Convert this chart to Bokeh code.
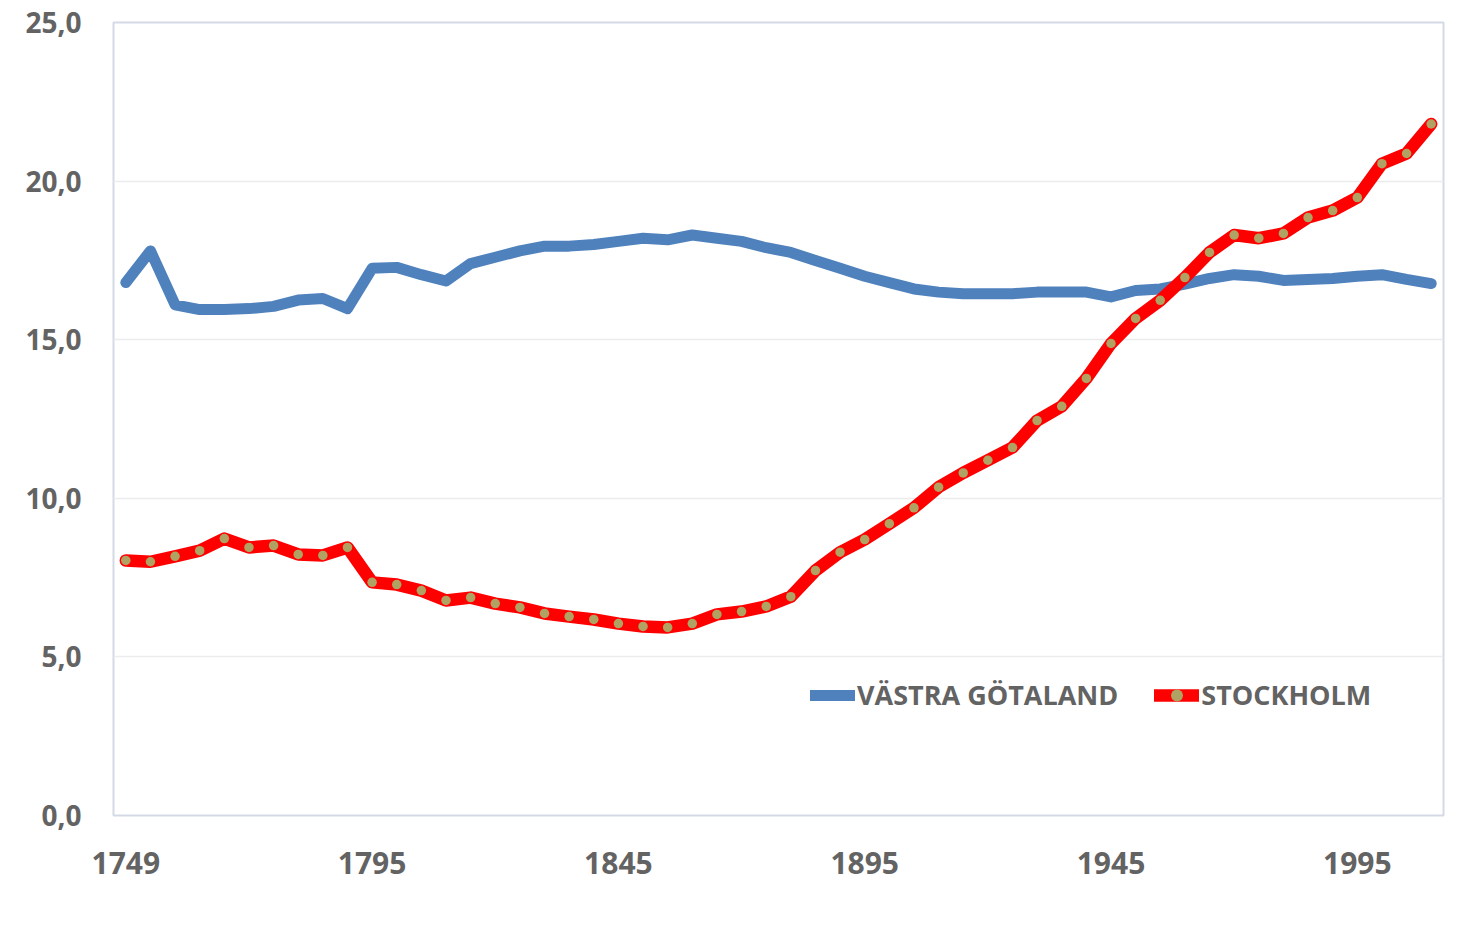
from bokeh.plotting import figure
from bokeh.models import (Range1d, FixedTicker, CustomJSTickFormatter,
                          Legend, LegendItem, ColumnDataSource)
from bokeh.embed import file_html
from bokeh.resources import INLINE

years = ["1749", "1750", "1755", "1760", "1765", "1770", "1775", "1780", "1785", "1790",
         "1795", "1800", "1805", "1810", "1815", "1820", "1825", "1830", "1835", "1840",
         "1845", "1850", "1855", "1860", "1865", "1870", "1875", "1880", "1885", "1890",
         "1895", "1900", "1905", "1910", "1915", "1920", "1925", "1930", "1935", "1940",
         "1945", "1950", "1955", "1960", "1965", "1970", "1975", "1980", "1985", "1990",
         "1995", "2000", "2005", "2010"]

vastra_gotaland = [16.8, 17.8, 16.1, 15.95, 15.95, 15.98, 16.05, 16.25, 16.3, 15.98,
                   17.25, 17.28, 17.05, 16.85, 17.4, 17.6, 17.8, 17.95, 17.95, 18.0,
                   18.1, 18.2, 18.15, 18.3, 18.2, 18.1, 17.9, 17.75, 17.5, 17.25,
                   17.0, 16.8, 16.6, 16.5, 16.45, 16.45, 16.45, 16.5, 16.5, 16.5,
                   16.35, 16.55, 16.6, 16.75, 16.93, 17.05, 17.0, 16.87, 16.9, 16.93,
                   17.0, 17.05, 16.9, 16.77]

stockholm = [8.04, 8.0, 8.17, 8.35, 8.73, 8.45, 8.51, 8.23, 8.2, 8.45,
             7.35, 7.28, 7.09, 6.78, 6.87, 6.68, 6.56, 6.37, 6.27, 6.18,
             6.05, 5.96, 5.93, 6.05, 6.34, 6.43, 6.59, 6.9, 7.72, 8.3,
             8.7, 9.2, 9.7, 10.35, 10.8, 11.2, 11.6, 12.45, 12.9, 13.78,
             14.88, 15.67, 16.24, 16.96, 17.75, 18.3, 18.2, 18.35, 18.85, 19.07,
             19.48, 20.55, 20.87, 21.8]

y_ticks = [0, 5, 10, 15, 20, 25]
series_names = ["VÄSTRA GÖTALAND", "STOCKHOLM"]
label_every = 10

# category positions (one slot per year entry)
pos = list(range(len(years)))
src = ColumnDataSource(dict(pos=pos, year=years, vg=vastra_gotaland, st=stockholm))

p = figure(width=1447, height=915,
           x_range=Range1d(-0.5, len(years) - 0.5), y_range=Range1d(0, 25),
           output_backend="svg", toolbar_location=None,
           min_border_left=113, min_border_right=4, min_border_top=22, min_border_bottom=100)

p.background_fill_color = "white"
p.border_fill_color = "white"
p.outline_line_color = "#d3dae6"
p.outline_line_width = 2

font = "Open Sans"
txt_col = "#636363"

p.xgrid.visible = False
p.ygrid.grid_line_color = "#ececec"
p.ygrid.grid_line_width = 1.5

p.yaxis.ticker = FixedTicker(ticks=y_ticks)
p.yaxis.formatter = CustomJSTickFormatter(code="return tick.toFixed(1).replace('.', ',');")
p.yaxis.axis_line_color = None
p.yaxis.major_tick_line_color = None
p.yaxis.minor_tick_line_color = None
p.yaxis.major_label_text_font = font
p.yaxis.major_label_text_font_style = "bold"
p.yaxis.major_label_text_font_size = "28px"
p.yaxis.major_label_text_color = txt_col
p.yaxis.major_label_standoff = 26

tick_pos = pos[::label_every]
p.xaxis.ticker = FixedTicker(ticks=tick_pos)
p.xaxis.major_label_overrides = {i: years[i] for i in tick_pos}
p.xaxis.axis_line_color = None
p.xaxis.major_tick_line_color = None
p.xaxis.minor_tick_line_color = None
p.xaxis.major_label_text_font = font
p.xaxis.major_label_text_font_style = "bold"
p.xaxis.major_label_text_font_size = "30px"
p.xaxis.major_label_text_color = txt_col
p.xaxis.major_label_standoff = 30

r_vg = p.line(x="pos", y="vg", source=src, line_width=11, color="#4f81bd",
              line_join="round", line_cap="round")
r_st = p.line(x="pos", y="st", source=src, line_width=12.5, color="#ff0000",
              line_join="round", line_cap="round")
r_dots = p.scatter(x="pos", y="st", source=src, size=9.5, fill_color="#b0a262",
                   line_color=None, marker="circle")

legend = Legend(items=[LegendItem(label=series_names[0], renderers=[r_vg]),
                       LegendItem(label=series_names[1], renderers=[r_st, r_dots])],
                orientation="horizontal", location=(697, 102),
                border_line_color=None, background_fill_alpha=0,
                padding=0, margin=0, spacing=36, label_standoff=2,
                glyph_width=45, glyph_height=30, label_height=30,
                label_text_font=font, label_text_font_style="bold",
                label_text_font_size="27px", label_text_color=txt_col)
p.add_layout(legend)

open("out.html", "w").write(file_html(p, INLINE))
